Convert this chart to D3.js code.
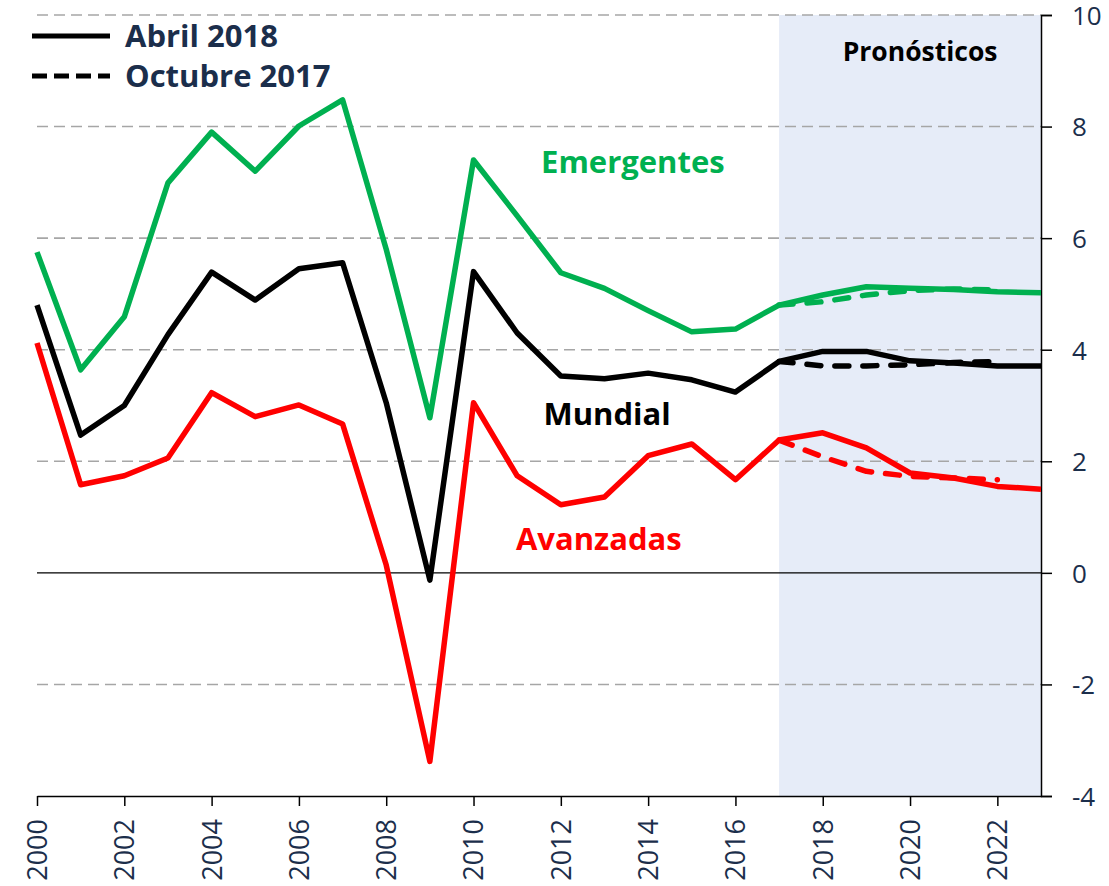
<!DOCTYPE html>
<html>
<head>
<meta charset="utf-8">
<script src="https://cdn.jsdelivr.net/npm/d3@7"></script>
<style>
  body { margin: 0; background: #fff; }
  text { font-family: "Open Sans", sans-serif; }
</style>
</head>
<body>
<div class="growth-chart"></div>
<script>
// years and series (percent growth)
let years = d3.range(2000, 2024);
let mundial = [4.8, 2.47, 3.0, 4.27, 5.39, 4.89, 5.45, 5.56, 3.05, -0.13, 5.4, 4.3, 3.53, 3.48, 3.58, 3.46, 3.24, 3.79, 3.97, 3.97, 3.8, 3.76, 3.71, 3.71];
let emergentes = [5.75, 3.64, 4.59, 6.99, 7.9, 7.2, 8.01, 8.48, 5.8, 2.78, 7.4, 6.4, 5.38, 5.1, 4.7, 4.32, 4.37, 4.8, 4.98, 5.13, 5.1, 5.08, 5.04, 5.02];
let avanzadas = [4.12, 1.58, 1.74, 2.06, 3.23, 2.8, 3.01, 2.67, 0.14, -3.38, 3.05, 1.74, 1.22, 1.36, 2.1, 2.31, 1.67, 2.38, 2.51, 2.24, 1.79, 1.7, 1.55, 1.5];
// October 2017 forecasts
let yearsOct = d3.range(2017, 2023);
let mundialOct = [3.79, 3.71, 3.71, 3.73, 3.77, 3.79];
let emergentesOct = [4.8, 4.86, 4.98, 5.06, 5.09, 5.07];
let avanzadasOct = [2.38, 2.08, 1.82, 1.73, 1.7, 1.67];
let yTicks = [-4, -2, 0, 2, 4, 6, 8, 10];
let xTicks = d3.range(2000, 2023, 2);

let W = 1109, H = 886;
let margin = { top: 15, right: 68, bottom: 90, left: 37 },
    width = W - margin.left - margin.right,
    height = H - margin.top - margin.bottom;

let svg = d3.select(".growth-chart")
    .append("svg")
    .attr("width", W)
    .attr("height", H)
    .append("g")
    .attr("transform", "translate(" + margin.left + "," + margin.top + ")");

let x = d3.scaleLinear().domain([2000, 2023]).range([0, width]);
let y = d3.scaleLinear().domain([-4, 10]).range([height, 0]);

// forecast band
svg.append("rect")
    .attr("x", x(2017))
    .attr("y", 0)
    .attr("width", x(2023) - x(2017))
    .attr("height", height)
    .style("fill", "#E6ECF8");

// dashed gridlines
svg.append("g")
    .selectAll("line")
    .data(yTicks.filter(d => d != 0 && d != -4))
    .enter().append("line")
    .attr("x1", 0).attr("x2", width)
    .attr("y1", d => y(d)).attr("y2", d => y(d))
    .style("stroke", "#A6A6A6")
    .style("stroke-width", 1.6)
    .style("stroke-dasharray", "11,6");

// zero line
svg.append("line")
    .attr("x1", 0).attr("x2", width)
    .attr("y1", y(0)).attr("y2", y(0))
    .style("stroke", "#000")
    .style("stroke-width", 1.2);

// right axis
let yAxis = svg.append("g")
    .attr("transform", "translate(" + width + ",0)")
    .call(d3.axisRight(y).tickValues(yTicks).tickSize(11).tickPadding(20).tickFormat(d => d));
yAxis.select(".domain").style("stroke", "#000").style("stroke-width", 1.5);
yAxis.selectAll(".tick line").style("stroke", "#000").style("stroke-width", 1.5);
yAxis.selectAll("text")
    .style("font-size", "26px")
    .style("fill", "#1B2E4B")
    .attr("dy", "0.36em");

// bottom axis
let xAxis = svg.append("g")
    .attr("transform", "translate(0," + height + ")")
    .call(d3.axisBottom(x).tickValues(xTicks).tickSize(10).tickSizeOuter(0).tickFormat(d3.format("d")));
xAxis.select(".domain").style("stroke", "#000").style("stroke-width", 1.5);
xAxis.selectAll(".tick line").style("stroke", "#000").style("stroke-width", 1.5);
xAxis.selectAll("text")
    .style("font-size", "27px")
    .style("fill", "#1B2E4B")
    .style("text-anchor", "end")
    .attr("x", 0)
    .attr("y", 0)
    .attr("dx", "-23px")
    .attr("dy", "0.35em")
    .attr("transform", "rotate(-90)");

let line = d3.line()
    .x(d => x(d[0]))
    .y(d => y(d[1]));

function drawSeries(xs, vals, color, dashed) {
    svg.append("path")
        .datum(xs.map((yr, i) => [yr, vals[i]]))
        .attr("d", line)
        .style("fill", "none")
        .style("stroke", color)
        .style("stroke-width", 5.5)
        .style("stroke-linejoin", "round")
        .style("stroke-linecap", dashed ? "round" : "butt")
        .style("stroke-dasharray", dashed ? "14,14" : null);
}

drawSeries(yearsOct, emergentesOct, "#00B050", true);
drawSeries(yearsOct, mundialOct, "#000000", true);
drawSeries(yearsOct, avanzadasOct, "#FF0000", true);
drawSeries(years, emergentes, "#00B050", false);
drawSeries(years, mundial, "#000000", false);
drawSeries(years, avanzadas, "#FF0000", false);

// series labels
let labels = [
    { t: "Emergentes", c: "#00B050", yr: 13.65, v: 7.37 },
    { t: "Mundial", c: "#000000", yr: 13.06, v: 2.85 },
    { t: "Avanzadas", c: "#FF0000", yr: 12.87, v: 0.61 }
];
svg.selectAll(".series-label")
    .data(labels)
    .enter().append("text")
    .attr("class", "series-label")
    .attr("x", d => x(2000 + d.yr))
    .attr("y", d => y(d.v))
    .attr("dy", "0.35em")
    .style("text-anchor", "middle")
    .style("font-size", "31px")
    .style("font-weight", "bold")
    .style("fill", d => d.c)
    .text(d => d.t);

svg.append("text")
    .attr("x", x(2020.23))
    .attr("y", y(9.34))
    .attr("dy", "0.35em")
    .style("text-anchor", "middle")
    .style("font-size", "26.5px")
    .style("font-weight", "bold")
    .style("fill", "#000")
    .text("Pronósticos");

// legend
let legend = svg.append("g").attr("transform", "translate(" + (-margin.left) + "," + (-margin.top) + ")");
[["Abril 2018", null, 36], ["Octubre 2017", "15,7", 76]].forEach(function (l) {
    legend.append("line")
        .attr("x1", 32).attr("x2", 110)
        .attr("y1", l[2]).attr("y2", l[2])
        .style("stroke", "#000")
        .style("stroke-width", 5)
        .style("stroke-dasharray", l[1]);
    legend.append("text")
        .attr("x", 125)
        .attr("y", l[2])
        .attr("dy", "0.35em")
        .style("font-size", "31px")
        .style("font-weight", "bold")
        .style("fill", "#1B2E4B")
        .text(l[0]);
});
</script>
</body>
</html>
